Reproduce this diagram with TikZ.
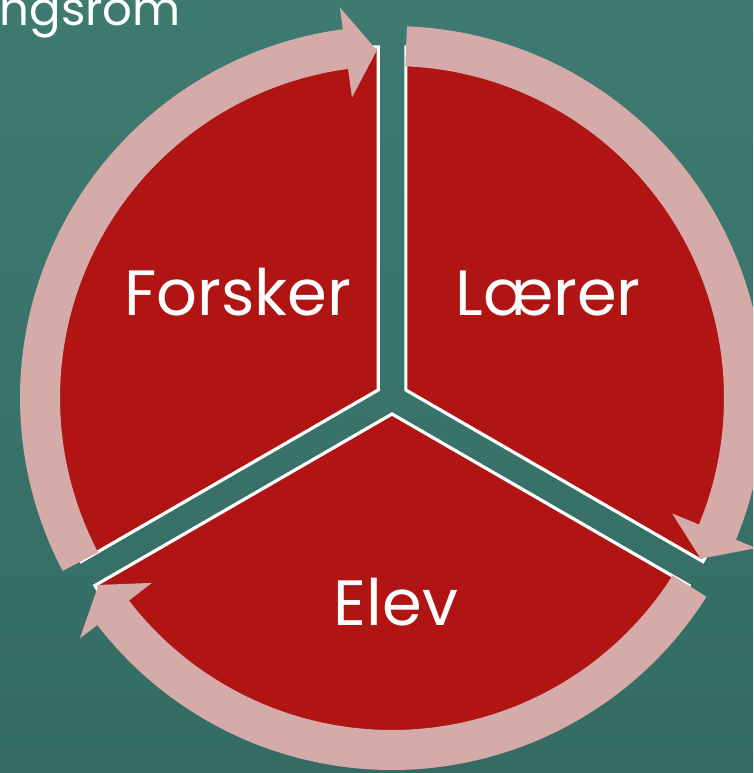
\documentclass[tikz,border=0pt]{standalone}
\usepackage{fontspec}
\setmainfont{Poppins}
\usetikzlibrary{calc}

\definecolor{tealtop}{RGB}{62,122,112}
\definecolor{tealbot}{RGB}{52,108,99}
\definecolor{segred}{RGB}{176,21,20}
\definecolor{ringpink}{RGB}{213,171,170}

\tikzset{
  segment/.style={fill=segred, draw=white, line width=2.4pt, line join=miter},
  ringarrow/.style={fill=ringpink},
  seglabel/.style={text=white, inner sep=0pt, font=\fontsize{48}{58}\selectfont},
  titletext/.style={text=white, inner sep=0pt, font=\fontsize{35}{42}\selectfont}
}

\begin{document}
\begin{tikzpicture}[x=0.75pt,y=0.75pt,yscale=-1,xscale=1]
\useasboundingbox (0,0) rectangle (753,773);
\clip (0,0) rectangle (753,773);

%Background
\shade [top color=tealtop, bottom color=tealbot] (0,0) rectangle (753,773);

\coordinate (C) at (392,398);

%Pie segments
\foreach \m in {-150,-30,90}
  \draw [segment] ($(C)+(\m:16)$) -- ++(\m+60:343) arc (\m+60:\m-60:343) -- cycle;

%Curved arrows round the segments
\begin{scope}[shift={(C)}]
\foreach \t in {-92.5,27.5,147.5}
  \fill [ringarrow] (\t-115.2:372) arc (\t-115.2:\t-5.1:372) -- (\t-5.1:394) -- (\t:348)
        -- (\t-5.1:303) -- (\t-5.1:332) arc (\t-5.1:\t-115.2:332) -- cycle;
\end{scope}

% Text Node
\node [seglabel, anchor=base] (forsker) at (238,315) {Forsker};
% Text Node
\node [seglabel, anchor=base] (laerer) at (548,315) {Lærer};
% Text Node
\node [seglabel, anchor=base] (elev) at (396,625) {Elev};
% Text Node
\node [titletext, anchor=base east] (title) at (181,26) {ngsrom};

\end{tikzpicture}
\end{document}
